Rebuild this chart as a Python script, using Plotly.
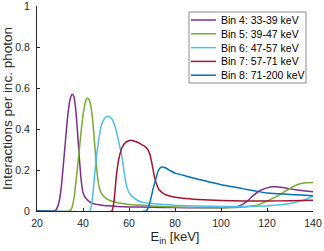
import plotly.graph_objects as go

# ---- data ----
labels = ["Bin 4: 33-39 keV", "Bin 5: 39-47 keV", "Bin 6: 47-57 keV",
          "Bin 7: 57-71 keV", "Bin 8: 71-200 keV"]
colors = ["#7E2F8E", "#77AC30", "#4DBEEE", "#A2142F", "#0072BD"]

bin4_e = [20, 27.5, 28.5, 29.5, 30.5, 31.5, 32.5, 33.5, 34.5, 35.3, 36.0, 36.8, 37.6, 38.4, 39.2, 40.0, 41.0, 42.5, 44, 47, 50, 55, 60, 70, 80, 90, 100, 105, 108, 111, 114, 117, 120, 123, 126, 130, 135, 140]
bin4_v = [0, 0, 0.01, 0.04, 0.11, 0.23, 0.36, 0.48, 0.55, 0.57, 0.56, 0.5, 0.39, 0.26, 0.15, 0.09, 0.065, 0.048, 0.037, 0.03, 0.026, 0.022, 0.02, 0.018, 0.017, 0.016, 0.016, 0.018, 0.025, 0.045, 0.075, 0.1, 0.113, 0.118, 0.116, 0.108, 0.1, 0.094]

bin5_e = [20, 34.3, 35.3, 36.3, 37.3, 38.3, 39.3, 40.3, 41.2, 42.0, 42.8, 43.6, 44.4, 45.2, 46.0, 46.8, 47.6, 48.5, 50, 52, 55, 60, 66, 70, 80, 90, 100, 108, 112, 116, 120, 124, 127, 130, 133, 136, 140]
bin5_v = [0, 0, 0.02, 0.08, 0.18, 0.29, 0.4, 0.49, 0.54, 0.552, 0.54, 0.5, 0.42, 0.31, 0.2, 0.13, 0.095, 0.078, 0.062, 0.05, 0.04, 0.032, 0.028, 0.025, 0.02, 0.017, 0.016, 0.018, 0.022, 0.03, 0.048, 0.07, 0.09, 0.11, 0.128, 0.137, 0.139]

bin6_e = [20, 43, 44, 45, 46, 47, 48, 49.5, 51, 52.5, 54, 55.5, 57, 58, 59, 60, 62, 64, 66, 70, 75, 80, 90, 100, 110, 120, 126, 130, 134, 137, 140]
bin6_v = [0, 0, 0.05, 0.17, 0.28, 0.36, 0.42, 0.455, 0.463, 0.45, 0.41, 0.34, 0.26, 0.18, 0.12, 0.09, 0.065, 0.05, 0.042, 0.036, 0.032, 0.028, 0.024, 0.022, 0.022, 0.025, 0.03, 0.037, 0.047, 0.058, 0.074]

bin7_e = [20, 52.5, 53.5, 54.5, 55.5, 57, 58.5, 60.5, 62.5, 65, 67.5, 69, 70, 71, 72, 73, 75, 78, 83.5, 90, 100, 110, 120, 130, 140]
bin7_v = [0, 0, 0.05, 0.17, 0.25, 0.31, 0.335, 0.345, 0.34, 0.328, 0.31, 0.28, 0.23, 0.17, 0.13, 0.105, 0.085, 0.072, 0.062, 0.056, 0.051, 0.049, 0.049, 0.05, 0.053]

bin8_e = [20, 67.5, 68.5, 69.5, 70.5, 71.5, 72.5, 73.5, 74.5, 76, 78, 80, 85, 90, 95, 100, 105, 110, 115, 120, 125, 130, 135, 140]
bin8_v = [0, 0, 0.02, 0.06, 0.11, 0.15, 0.19, 0.21, 0.215, 0.21, 0.197, 0.185, 0.17, 0.155, 0.142, 0.128, 0.118, 0.108, 0.098, 0.088, 0.084, 0.081, 0.078, 0.075]

x_ticks = [20, 40, 60, 80, 100, 120, 140]
y_ticks = [0, 0.2, 0.4, 0.6, 0.8, 1]
y_ticktext = ["0", "0.2", "0.4", "0.6", "0.8", "1"]

series = [(bin4_e, bin4_v), (bin5_e, bin5_v), (bin6_e, bin6_v),
          (bin7_e, bin7_v), (bin8_e, bin8_v)]

FONT = "Liberation Sans, Arial, sans-serif"
AX = "#262626"
W, H = 324, 251
ML, MR, MT, MB = 37, 11, 6, 40

fig = go.Figure()
for (e, v), name, c in zip(series, labels, colors):
    fig.add_trace(go.Scatter(x=e, y=v, mode="lines", name=name,
                             line=dict(color=c, width=1.5, shape="spline", smoothing=0.4),
                             showlegend=False))

# custom legend (compact, MATLAB-like)
pw, ph = W - ML - MR, H - MT - MB
def px2x(p):
    return (p - ML) / pw
def py2y(p):
    return (H - MB - p) / ph

shapes = [dict(type="rect", xref="paper", yref="paper",
               x0=px2x(189), x1=px2x(306), y0=py2y(83), y1=py2y(12),
               line=dict(color="#8c8c8c", width=1), fillcolor="white", layer="above")]
annotations = []
for i, (name, c) in enumerate(zip(labels, colors)):
    yc = 20 + i * 13.8
    shapes.append(dict(type="line", xref="paper", yref="paper",
                       x0=px2x(191), x1=px2x(216), y0=py2y(yc), y1=py2y(yc),
                       line=dict(color=c, width=1.5), layer="above"))
    annotations.append(dict(xref="paper", yref="paper", x=px2x(219), y=py2y(yc),
                            xanchor="left", yanchor="middle", showarrow=False,
                            text=name, font=dict(family=FONT, size=10.5, color="#000")))

fig.update_layout(
    width=W, height=H,
    margin=dict(l=ML, r=MR, t=MT, b=MB),
    paper_bgcolor="white", plot_bgcolor="white",
    font=dict(family=FONT, size=10.5, color=AX),
    shapes=shapes, annotations=annotations,
    xaxis=dict(range=[20, 140], tickvals=x_ticks, ticks="inside", ticklen=3,
               tickcolor=AX, showline=True, linecolor=AX, linewidth=1,
               showgrid=False, zeroline=False, automargin=False,
               ticklabelstandoff=2,
               tickfont=dict(size=10.5, color=AX),
               title=dict(text="E<sub>in</sub> [keV]", standoff=4,
                          font=dict(size=13, color=AX))),
    yaxis=dict(range=[0, 1.0005], tickvals=y_ticks, ticktext=y_ticktext,
               ticks="inside", ticklen=3, tickcolor=AX,
               showline=True, linecolor=AX, linewidth=1,
               showgrid=False, zeroline=False, automargin=False,
               ticklabelstandoff=4, ticklabeloverflow="allow",
               tickfont=dict(size=10.5, color=AX),
               title=dict(text="Interactions per inc. photon", standoff=1,
                          font=dict(size=13.5, color=AX))),
)

fig.write_html("out.html", config={"displayModeBar": False},
               post_script="document.body.style.margin='0';document.body.style.padding='0';")
